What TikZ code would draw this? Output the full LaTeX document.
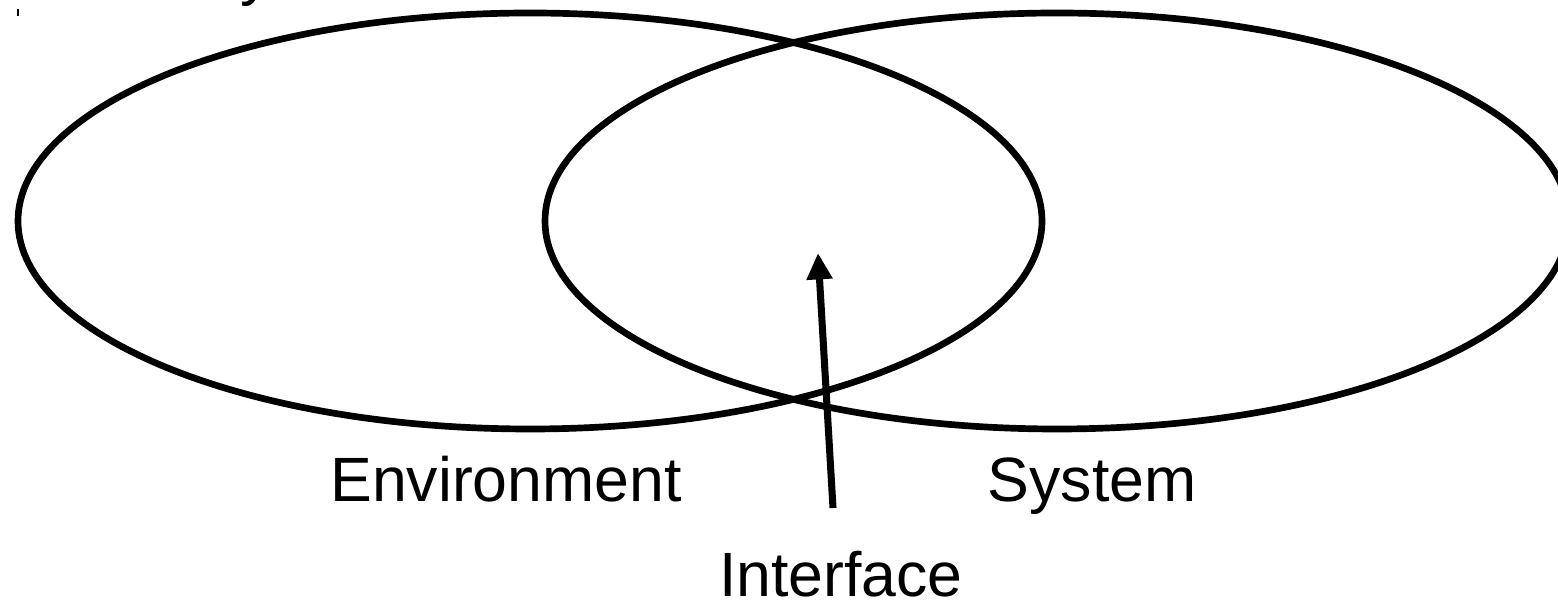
\documentclass[tikz,border=0pt]{standalone}
\usepackage{fontspec}
\setmainfont{Liberation Sans}
\usetikzlibrary{arrows.meta}
\begin{document}
\begin{tikzpicture}[x=0.01cm,y=-0.01cm,
  ring/.style={draw=black,line width=1.9pt},
  lbl/.style={font=\fontsize{17.8}{21}\selectfont,inner sep=0pt,anchor=base},
  pointer/.style={draw=black,line width=2pt,-{Triangle[width=7pt,length=7.5pt]}}]
\useasboundingbox (0,0) rectangle (1558,601);
\draw[ring] (530,221) ellipse [x radius=512, y radius=208];
\draw[ring] (1057,221) ellipse [x radius=512, y radius=208];
\node[lbl] (env) at (506,502) {Environment};
\node[lbl] (sys) at (1092,502) {System};
\node[lbl] (intf) at (841,597) {Interface};
\coordinate (tail) at (833,508);
\coordinate (tip) at (818,253);
\draw[pointer] (tail) -- (tip);
\node[lbl,anchor=base west] (clip) at (240,-6) {y};
\coordinate (t1) at (18,9);
\coordinate (t2) at (18,16);
\draw[line width=0.4pt] (t1) -- (t2);
\end{tikzpicture}
\end{document}
